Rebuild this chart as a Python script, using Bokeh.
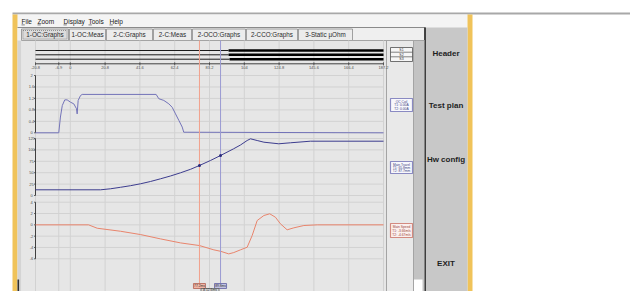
from bokeh.plotting import figure
from bokeh.models import Range1d
from bokeh.embed import file_html
from bokeh.resources import INLINE
from bokeh.core.properties import value

# ---------------- data ----------------
menu_items = ["File", "Zoom", "Display", "Tools", "Help"]
tab_labels = ["1-OC:Graphs", "1-OC:Meas", "2-C:Graphs", "2-C:Meas",
              "2-OCO:Graphs", "2-CCO:Graphs", "3-Static \u00b5Ohm"]
button_labels = ["Header", "Test plan", "Hw config", "EXIT"]

time_ticks = [-20.8, 0.0, 20.8, 41.6, 62.4, 83.2, 104.0, 124.8, 145.6, 166.4, 187.2]
time_tick_labels = ["-20.8", "0", "20.8", "41.6", "62.4", "83.2", "104",
                    "124.8", "145.6", "166.4", "187.2"]
trigger_ms = [-6.9]
trigger_label = ["-6.9"]

contact_names = ["S1", "S2", "S3"]
contact_close_ms = [94.6, 94.6, 95.2]

coil_ticks = [0.0, 0.4, 0.8, 1.2, 1.6, 2.0]
coil_tick_labels = ["0", "0.4", "0.8", "1.2", "1.6", "2"]
coil_ms = [-20.8, -6.9, -5.9, -4.8, -3.3, -1.9, 0.1, 2.1, 3.7, 4.1, 4.7, 6.1, 7.1,
           51.3, 52.9, 55.9, 58.9, 60.9, 62.9, 64.9, 66.9, 67.8, 187.2]
coil_a = [0.0, 0.0, 0.55, 0.95, 1.15, 1.15, 1.07, 1.01, 0.84, 0.66, 1.13, 1.30, 1.34,
          1.34, 1.19, 1.13, 1.01, 0.89, 0.66, 0.43, 0.20, 0.02, 0.0]

travel_ticks = [0, 25, 50, 75, 100, 125]
travel_tick_labels = ["0", "25", "50", "75", "100", "125"]
travel_ms = [-20.8, 18.1, 24.0, 30.0, 36.0, 42.0, 47.9, 53.9, 59.9, 65.9, 71.9, 77.2,
             83.8, 89.8, 97.6, 101.7, 105.7, 107.7, 111.7, 115.7, 124.6, 131.6, 143.6, 187.2]
travel_mm = [12.5, 12.5, 14.7, 18.0, 21.5, 25.7, 30.7, 36.6, 42.8, 49.8, 57.5, 65.8,
             76.8, 87.7, 102.4, 110.7, 120.6, 124.3, 120.6, 116.9, 113.4, 115.6, 119.1, 119.1]

speed_ticks = [-6, -4, -2, 0, 2, 4]
speed_tick_labels = ["-6", "-4", "-2", "0", "2", "4"]
speed_ms = [-20.8, 10.9, 16.1, 30.0, 42.0, 53.9, 65.9, 77.2, 85.8, 89.8, 94.7, 97.7,
            101.7, 105.7, 108.7, 111.7, 115.7, 119.2, 122.6, 125.6, 129.6, 133.6,
            139.6, 147.6, 187.2]
speed_mps = [0.0, 0.0, -0.60, -1.13, -1.72, -2.48, -3.19, -3.66, -4.42, -4.67, -5.13, -4.90,
             -4.42, -3.96, -1.89, 0.76, 1.65, 1.95, 1.35, 0.18, -0.88, -0.53,
             -0.12, 0.0, 0.0]

cursor_ms = [77.2, 89.8]
cursor_labels = ["77.2ms", "89.8ms"]
cursor_delta_label = ["\u0394 12.6ms"]
cursor_travel_mm = [65.8, 87.7]

legend_coil = ["OC Coil", "T1: 0.00A", "T2: 0.00A"]
legend_travel = ["Main Travel", "T1: 65.8mm", "T2: 87.7mm"]
legend_speed = ["Main Speed", "T1: -3.66m/s", "T2: -4.67m/s"]

# ---------------- layout (screen pixels) ----------------
W, H = 630, 291
AX_L, AX_R = 35, 383
TIME_AXIS_Y = 63.3
PANEL_COIL = (132.3, 75.0)     # pixel y of lowest / highest tick
PANEL_TRAVEL = (195.0, 138.0)
PANEL_SPEED = (258.3, 201.7)
DIGI_Y = [50.0, 54.3, 58.7]

FONT = value("Liberation Sans")
MS_PER_PX = (time_ticks[-1] - time_ticks[0]) / (AX_R - AX_L)


def px_to_t(px):
    return time_ticks[0] + (px - AX_L) * MS_PER_PX


def panel_range(ticks, pys):
    v_lo, v_hi = ticks[0], ticks[-1]
    py_lo, py_hi = pys
    slope = (v_hi - v_lo) / (py_hi - py_lo)
    return Range1d(start=v_lo + (H - py_lo) * slope, end=v_lo + (0 - py_lo) * slope)


p = figure(width=W, height=H, output_backend="svg", toolbar_location=None,
           x_range=Range1d(0, W), y_range=Range1d(H, 0),
           x_axis_type=None, y_axis_type=None, min_border=0,
           background_fill_color="white", border_fill_color="white")
p.outline_line_color = None
p.extra_x_ranges = {"t": Range1d(px_to_t(0), px_to_t(W))}
p.extra_y_ranges = {
    "coil": panel_range(coil_ticks, PANEL_COIL),
    "travel": panel_range(travel_ticks, PANEL_TRAVEL),
    "speed": panel_range(speed_ticks, PANEL_SPEED),
}


def box(l, r, t, b, fill, line=None, lw=1.0, dash="solid", **kw):
    p.quad(left=[l], right=[r], top=[t], bottom=[b], fill_color=fill,
           line_color=line, line_width=lw, line_dash=dash, **kw)


def texts(xs, ys, labels, size, color="#202020", align="center", bold=False, **kw):
    p.text(x=xs, y=ys, text=labels, text_font=FONT, text_font_size=value(size),
           text_color=color, text_align=align, text_baseline="middle",
           text_font_style="bold" if bold else "normal", **kw)


# ---------------- window chrome ----------------
box(12, 640, 12, 14, "#a8a8a8")
box(17, 467, 14, 291, "#f4f4f4")
box(12, 17, 14, 291, "#f0c35a")
box(467, 472, 14, 291, "#f0c35a")

# menu
menu_x = [21, 37, 63, 88, 109]
texts(menu_x, [20.5] * 5, menu_items, "6.5px", align="left")
p.segment(x0=menu_x, y0=[24.4] * 5, x1=[x + 3.3 for x in menu_x], y1=[24.4] * 5,
          line_color="#303030", line_width=0.6)

# tab strip
box(17, 425, 27, 40, "#efefef")
p.segment(x0=[17], y0=[27], x1=[425], y1=[27], line_color="#8a8a8a", line_width=1)
tab_edges = [(21, 68), (69, 105), (106, 152), (153, 191), (192, 245), (246, 297), (298, 352)]
for i, (l, r) in enumerate(tab_edges):
    box(l, r, 28.5, 40, "#dcdcdc" if i == 0 else "#ececec", "#8c8c8c", 0.8)
box(22.5, 66.5, 30, 38.5, None, "#606060", 0.6, "1 1")
texts([(l + r) / 2 for l, r in tab_edges], [34.3] * len(tab_edges), tab_labels, "6.3px",
      color="#2a2a2a")

# right button panel
box(424, 467, 27, 291, "#c8c8c8")
p.segment(x0=[424.5], y0=[27], x1=[424.5], y1=[291], line_color="#101010", line_width=1.5)
texts([445.5] * 4, [52.5, 105, 159, 263], button_labels, "8px", bold=True, color="#1e1e1e")

# content area
box(17, 21, 40, 291, "#d4d4d4")
box(17, 18.6, 279, 291, "#303030")
box(21, 386, 40, 291, "#e6e6e6")
box(386, 413, 40, 291, "#e9e9e9")
box(413, 424, 40, 291, "#c3c3c3")
box(413.5, 422, 279, 291, "#ffffff")
p.segment(x0=[21, 386, 413], y0=[40, 40, 40], x1=[424, 386, 413], y1=[40, 291, 291],
          line_color="#a4a4a4", line_width=1)

# ---------------- grid ----------------
grid_t = time_ticks + trigger_ms
p.segment(x0=grid_t, y0=[40] * len(grid_t), x1=grid_t, y1=[291] * len(grid_t),
          x_range_name="t", line_color="#d2d2d2", line_width=1)
for name, ticks in (("coil", coil_ticks), ("travel", travel_ticks), ("speed", speed_ticks)):
    p.segment(x0=[AX_L] * len(ticks), y0=ticks, x1=[AX_R] * len(ticks), y1=ticks,
              y_range_name=name, line_color="#d2d2d2", line_width=1)

# ---------------- digital channels ----------------
t_first, t_last = time_ticks[0], time_ticks[-1]
p.segment(x0=[t_first] * 3, y0=DIGI_Y, x1=contact_close_ms, y1=DIGI_Y,
          x_range_name="t", line_color="#1a1a1a", line_width=1)
p.segment(x0=contact_close_ms, y0=DIGI_Y, x1=[t_last] * 3, y1=DIGI_Y,
          x_range_name="t", line_color="#000000", line_width=2.6)

# ---------------- time axis ----------------
p.segment(x0=[t_first], y0=[TIME_AXIS_Y], x1=[t_last], y1=[TIME_AXIS_Y],
          x_range_name="t", line_color="#404040", line_width=1)
p.segment(x0=grid_t, y0=[TIME_AXIS_Y - 1.5] * len(grid_t), x1=grid_t,
          y1=[TIME_AXIS_Y + 1.5] * len(grid_t), x_range_name="t",
          line_color="#404040", line_width=0.8)
texts(grid_t, [67.2] * len(grid_t), time_tick_labels + trigger_label,
      "4px", color="#505050", x_range_name="t")

# ---------------- analog panels ----------------
for name, ticks, labels in (("coil", coil_ticks, coil_tick_labels),
                            ("travel", travel_ticks, travel_tick_labels),
                            ("speed", speed_ticks, speed_tick_labels)):
    p.segment(x0=[AX_L], y0=[ticks[0]], x1=[AX_L], y1=[ticks[-1]], y_range_name=name,
              line_color="#404040", line_width=1)
    p.segment(x0=[AX_L - 1.5] * len(ticks), y0=ticks, x1=[AX_L] * len(ticks), y1=ticks,
              y_range_name=name, line_color="#404040", line_width=0.8)
    texts([AX_L - 4] * len(ticks), ticks, labels, "4px", color="#505050",
          y_range_name=name)

p.line(coil_ms, coil_a, x_range_name="t", y_range_name="coil",
       line_color="#7373b8", line_width=1)
p.line(travel_ms, travel_mm, x_range_name="t", y_range_name="travel",
       line_color="#3c3c8e", line_width=1)
p.line(speed_ms, speed_mps, x_range_name="t", y_range_name="speed",
       line_color="#e8846c", line_width=1)

# ---------------- cursors ----------------
p.segment(x0=cursor_ms, y0=[40, 40], x1=cursor_ms, y1=[283, 283], x_range_name="t",
          line_color=["#f2a08c", "#9a9ad2"], line_width=1)
p.scatter(cursor_ms, cursor_travel_mm, x_range_name="t", y_range_name="travel",
          size=3, fill_color="#2a2a7a", line_color=None)

half = 6 * MS_PER_PX
p.quad(left=[c - half for c in cursor_ms], right=[c + half for c in cursor_ms],
       top=[283, 283], bottom=[288, 288], x_range_name="t",
       fill_color=["#f2b6a6", "#c2c2e2"], line_color=["#b06050", "#6060a0"], line_width=0.8)
texts(cursor_ms, [285.5, 285.5], cursor_labels, "3.3px", color="#303030", x_range_name="t")
mid = (cursor_ms[0] + cursor_ms[1]) / 2
p.quad(left=[mid - 9 * MS_PER_PX], right=[mid + 9 * MS_PER_PX], top=[288], bottom=[291],
       x_range_name="t", fill_color="#d8d8d8", line_color="#606060", line_width=0.8)
texts([mid], [289.8], cursor_delta_label, "3.3px", color="#303030", x_range_name="t")

# ---------------- legend boxes ----------------
box(390, 412, 47, 61, "#f6f6f6", "#505050", 0.8)
p.segment(x0=[390, 390], y0=[51.7, 56.3], x1=[412, 412], y1=[51.7, 56.3],
          line_color="#505050", line_width=0.7)
texts([401] * 3, [49.4, 54.0, 58.6], contact_names, "3.5px", color="#303030")

for (t, b), lines, border, fill, col in (
        ((98, 111), legend_coil, "#8a8ac2", "#f8f8fc", "#3c3c7c"),
        ((161, 173), legend_travel, "#8a8ac2", "#f8f8fc", "#3c3c7c"),
        ((223, 237), legend_speed, "#d38a80", "#fbf0ee", "#9a4038")):
    box(390, 412, t, b, fill, border, 1.2)
    ys = [t + (b - t) * f for f in (0.25, 0.52, 0.78)]
    texts([401] * 3, ys, lines, "3.3px", color=col)

open("out.html", "w").write(file_html(p, INLINE))
